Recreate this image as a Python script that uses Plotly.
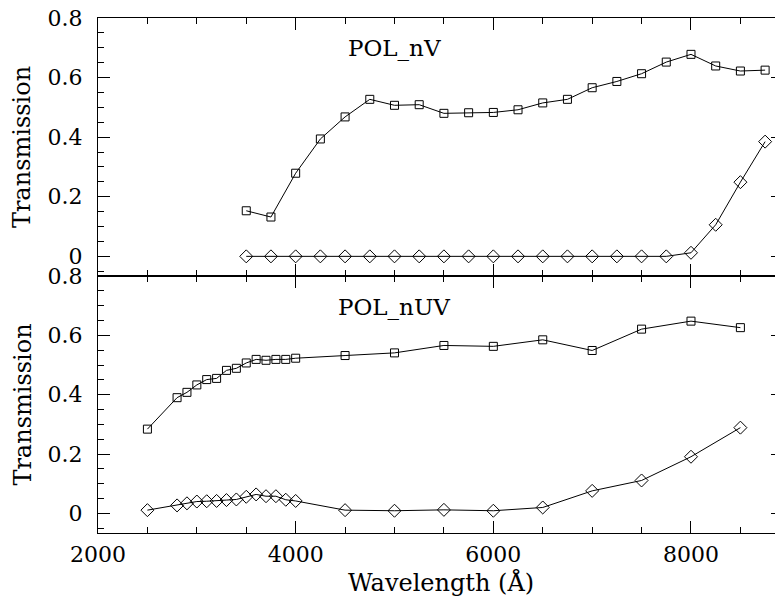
import plotly.graph_objects as go

# POL_nV (top panel)
nv_wave = [3500, 3750, 4000, 4250, 4500, 4750, 5000, 5250, 5500, 5750, 6000,
           6250, 6500, 6750, 7000, 7250, 7500, 7750, 8000, 8250, 8500, 8750]
nv_par = [0.153, 0.132, 0.279, 0.394, 0.468, 0.527, 0.507, 0.509, 0.480, 0.482, 0.483,
          0.492, 0.515, 0.527, 0.566, 0.587, 0.613, 0.652, 0.678, 0.639, 0.622, 0.625]
nv_cross = [0.0, 0.0, 0.0, 0.0, 0.0, 0.0, 0.0, 0.0, 0.0, 0.0, 0.0,
            0.0, 0.0, 0.0, 0.0, 0.0, 0.0, 0.0, 0.012, 0.106, 0.249, 0.385]

# POL_nUV (bottom panel)
nuv_wave = [2500, 2800, 2900, 3000, 3100, 3200, 3300, 3400, 3500, 3600, 3700, 3800,
            3900, 4000, 4500, 5000, 5500, 6000, 6500, 7000, 7500, 8000, 8500]
nuv_par = [0.284, 0.390, 0.408, 0.433, 0.451, 0.455, 0.482, 0.489, 0.507, 0.519, 0.516, 0.519,
           0.519, 0.523, 0.532, 0.541, 0.566, 0.563, 0.585, 0.549, 0.621, 0.648, 0.626]
nuv_cross = [0.011, 0.027, 0.034, 0.040, 0.041, 0.042, 0.045, 0.047, 0.056, 0.064, 0.058, 0.058,
             0.046, 0.042, 0.011, 0.009, 0.012, 0.009, 0.020, 0.076, 0.111, 0.191, 0.289]

y_tickvals = [0, 0.2, 0.4, 0.6, 0.8]
y_ticktext = ["0", "0.2", "0.4", "0.6", "0.8"]
x_tickvals = [2000, 4000, 6000, 8000]
x_ticktext = ["2000", "4000", "6000", "8000"]

FONT = "DejaVu Serif"
line = dict(color="black", width=1)

def sq():
    return dict(symbol="square-open", size=8, color="black", line=dict(width=1, color="black"))

def dm():
    return dict(symbol="diamond-open", size=10, color="black", line=dict(width=1, color="black"))

fig = go.Figure()
fig.add_trace(go.Scatter(x=nv_wave, y=nv_par, mode="lines+markers", line=line, marker=sq(),
                         xaxis="x2", yaxis="y2", showlegend=False))
fig.add_trace(go.Scatter(x=nv_wave, y=nv_cross, mode="lines+markers", line=line, marker=dm(),
                         xaxis="x2", yaxis="y2", showlegend=False))
fig.add_trace(go.Scatter(x=nuv_wave, y=nuv_par, mode="lines+markers", line=line, marker=sq(),
                         xaxis="x", yaxis="y", showlegend=False))
fig.add_trace(go.Scatter(x=nuv_wave, y=nuv_cross, mode="lines+markers", line=line, marker=dm(),
                         xaxis="x", yaxis="y", showlegend=False))

tickfont = dict(family=FONT, size=22, color="black")
xcommon = dict(range=[2000, 8931], showgrid=False, zeroline=False, showline=True,
               linecolor="black", linewidth=1, mirror="ticks", ticks="inside",
               ticklen=12, tickwidth=1, tickcolor="black",
               tickvals=x_tickvals, ticktext=x_ticktext, tickfont=tickfont,
               minor=dict(dtick=500, tick0=0, ticks="inside", ticklen=6, tickwidth=1, tickcolor="black"),
               automargin=False, ticklabeloverflow="allow")
ycommon = dict(range=[-0.066, 0.8], showgrid=False, zeroline=False, showline=True,
               linecolor="black", linewidth=1, mirror="ticks", ticks="inside",
               ticklen=12, tickwidth=1, tickcolor="black",
               tickvals=y_tickvals, ticktext=y_ticktext, tickfont=tickfont,
               minor=dict(dtick=0.05, tick0=0, ticks="inside", ticklen=6, tickwidth=1, tickcolor="black"),
               ticklabelstandoff=10, automargin=False, ticklabeloverflow="allow")

titlefont = dict(family=FONT, size=24, color="black")
labelfont = dict(family=FONT, size=23, color="black")

fig.update_layout(
    width=775, height=598,
    margin=dict(l=90, r=0, t=10, b=73),
    paper_bgcolor="white", plot_bgcolor="white",
    font=dict(family=FONT, size=22, color="black"),
    xaxis=dict(**xcommon, anchor="y", domain=[0, 1], ticklabelstandoff=2),
    xaxis2=dict(**xcommon, anchor="y2", matches="x", domain=[0, 1], showticklabels=False),
    yaxis=dict(**ycommon, domain=[0, 0.499], anchor="x"),
    yaxis2=dict(**ycommon, domain=[0.499, 1], anchor="x2"),
    annotations=[
        dict(text="POL_nV", x=5000, y=0.70, xref="x2", yref="y2", showarrow=False,
             xanchor="center", yanchor="middle", font=labelfont),
        dict(text="POL_nUV", x=5000, y=0.695, xref="x", yref="y", showarrow=False,
             xanchor="center", yanchor="middle", font=labelfont),
        dict(text="Wavelength (Å)", x=0.5, y=-0.097, xref="paper", yref="paper", showarrow=False,
             xanchor="center", yanchor="middle", font=titlefont),
        dict(text="Transmission", x=-0.1108, y=0.7495, xref="paper", yref="paper", showarrow=False,
             xanchor="center", yanchor="middle", textangle=-90, font=titlefont),
        dict(text="Transmission", x=-0.1108, y=0.2495, xref="paper", yref="paper", showarrow=False,
             xanchor="center", yanchor="middle", textangle=-90, font=titlefont),
    ],
)

fig.write_html("out.html")
